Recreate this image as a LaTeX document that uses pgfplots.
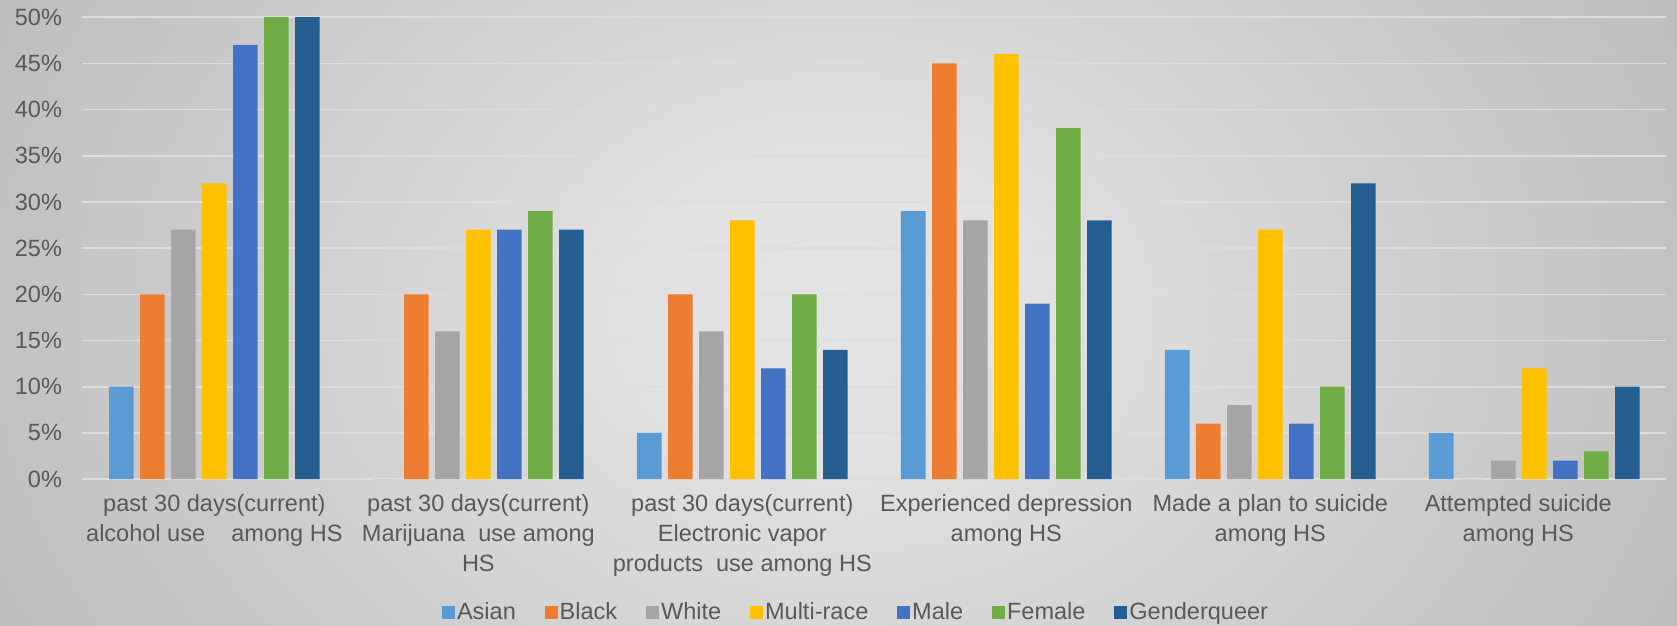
\documentclass[border=0pt]{standalone}
\usepackage{pgfplots}
\pgfplotsset{compat=1.18}
\usepackage{fontspec}
\setmainfont{Liberation Sans}

\definecolor{txt}{HTML}{595959}
\definecolor{gridc}{HTML}{DDDDDD}
\definecolor{cAsian}{HTML}{5B9BD5}
\definecolor{cBlack}{HTML}{ED7D31}
\definecolor{cWhite}{HTML}{A5A5A5}
\definecolor{cMulti}{HTML}{FFC000}
\definecolor{cMale}{HTML}{4472C4}
\definecolor{cFemale}{HTML}{70AD47}
\definecolor{cGQ}{HTML}{255E91}
\definecolor{bg0}{HTML}{E4E4E4}
\definecolor{bg1}{HTML}{E1E1E1}
\definecolor{bg2}{HTML}{CFCFCF}
\definecolor{bg3}{HTML}{B8B8B8}
\definecolor{bg4}{HTML}{B2B2B2}
\definecolor{bg5}{HTML}{A8A8A8}

\pgfdeclareradialshading{bgshade}{\pgfpoint{0bp}{0bp}}{%
  color(0bp)=(bg0); color(6bp)=(bg1); color(17bp)=(bg2);
  color(31bp)=(bg3); color(35.5bp)=(bg4); color(50bp)=(bg5); color(71bp)=(bg5)}

\begin{document}
\begin{tikzpicture}[x=1pt,y=1pt]
\begin{scope}
  \clip (0,0) rectangle (784,292.2);
  \shade[shading=bgshade] (0,-150) rectangle (784,442);
\end{scope}
\begin{axis}[
  at={(38.5pt,68.2pt)}, anchor=south west,
  scale only axis, width=740.5pt, height=216pt,
  ybar=3pt, bar width=11.5pt,
  ymin=0, ymax=50, xmin=-0.5, xmax=5.5,
  xtick={0,...,5},
  xticklabels={
    {past 30 days(current)\\alcohol use \ \ \ among HS},
    {past 30 days(current)\\Marijuana \ use among\\HS},
    {past 30 days(current)\\Electronic vapor\\products \ use among HS},
    {Experienced depression\\among HS},
    {Made a plan to suicide\\among HS},
    {Attempted suicide\hspace*{15pt}\\among HS\hspace*{15pt}}},
  ytick={0,5,...,50},
  yticklabel={\pgfmathprintnumber{\tick}\%},
  /pgf/number format/assume math mode=true,
  ymajorgrids, grid style={gridc, line width=0.75pt},
  axis x line*=bottom, axis y line*=left,
  y axis line style={draw=none},
  x axis line style={gridc, line width=1pt},
  major tick length=0pt, tick style={draw=none},
  tick label style={text=txt, font=\fontsize{11}{14}\selectfont},
  xticklabel style={align=center, yshift=-3.5pt},
  yticklabel style={xshift=-6pt},
  every axis plot post/.append style={draw=none,
    legend image code/.code={\fill[##1] (0pt,-3pt) rectangle (6pt,3pt);}},
  legend columns=7,
  legend style={at={(0.4885,-0.289)}, anchor=center, draw=none, fill=none,
    font=\fontsize{11}{13}\selectfont, text=txt,
    nodes={inner sep=1pt},
    /tikz/every even column/.append style={column sep=12.5pt}},
]
\addplot[fill=cAsian]  coordinates {(0,10) (1,0)  (2,5)  (3,29) (4,14) (5,5)};
\addplot[fill=cBlack]  coordinates {(0,20) (1,20) (2,20) (3,45) (4,6)  (5,0)};
\addplot[fill=cWhite]  coordinates {(0,27) (1,16) (2,16) (3,28) (4,8)  (5,2)};
\addplot[fill=cMulti]  coordinates {(0,32) (1,27) (2,28) (3,46) (4,27) (5,12)};
\addplot[fill=cMale]   coordinates {(0,47) (1,27) (2,12) (3,19) (4,6)  (5,2)};
\addplot[fill=cFemale] coordinates {(0,50) (1,29) (2,20) (3,38) (4,10) (5,3)};
\addplot[fill=cGQ]     coordinates {(0,50) (1,27) (2,14) (3,28) (4,32) (5,10)};
\legend{Asian,Black,White,Multi-race,Male,Female,Genderqueer}
\end{axis}
\pgfresetboundingbox
\path[use as bounding box] (0,0) rectangle (784,292.2);
\end{tikzpicture}
\end{document}
